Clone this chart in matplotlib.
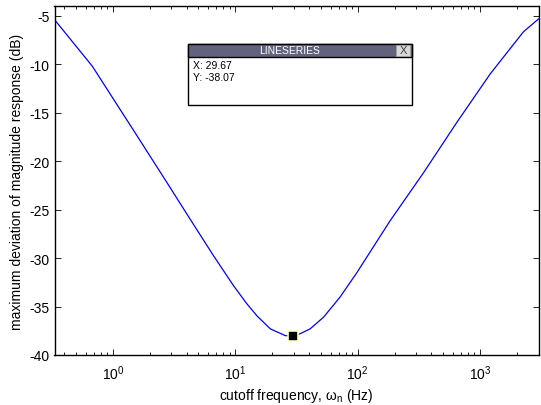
import matplotlib.pyplot as plt
from matplotlib.patches import Rectangle
from matplotlib.ticker import LogLocator, NullFormatter

plt.rcParams['font.family'] = ['Liberation Sans', 'DejaVu Sans']
plt.rcParams['mathtext.fontset'] = 'custom'
plt.rcParams['mathtext.rm'] = 'Liberation Sans'
plt.rcParams['mathtext.it'] = 'Liberation Sans:italic'
plt.rcParams['axes.unicode_minus'] = False

# cutoff frequency (Hz) vs. maximum deviation of magnitude response (dB)
freq = [0.333, 0.678, 1.01, 1.47, 2.76, 4.28, 6.64, 9.67, 12.4, 15.0, 19.3, 25.6,
        29.67, 33.9, 40.9, 52.6, 72.0, 98.5, 184, 345, 646, 1210, 2264, 3000]
max_dev = [-5.4, -10.2, -13.6, -16.8, -22.2, -26.0, -29.76, -32.85, -34.7, -35.95, -37.3, -38.0,
           -38.07, -37.8, -37.3, -36.1, -34.0, -31.5, -26.15, -21.2, -16.0, -11.0, -6.65, -5.34]

# data tip on the minimum
tip_x = 29.67
tip_y = -38.07

y_ticks = [-40, -35, -30, -25, -20, -15, -10, -5]

fig = plt.figure(figsize=(5.41, 4.06), dpi=100)
ax = fig.add_axes([54.5 / 541, 50 / 406, 484 / 541, 349 / 406])

ax.semilogx(freq, max_dev, color='#0000ff', linewidth=0.9)
ax.plot([tip_x], [tip_y], marker='s', markersize=7, color='black',
        markeredgecolor='#ffffc0', markeredgewidth=1.2, linestyle='none')

ax.set_xlim(1 / 3, 3000)
ax.set_ylim(-40, -4)
ax.set_yticks(y_ticks)
ax.xaxis.set_major_locator(LogLocator(base=10))
ax.xaxis.set_minor_locator(LogLocator(base=10, subs=range(2, 10)))
ax.xaxis.set_minor_formatter(NullFormatter())

ax.tick_params(which='both', direction='in', top=True, right=True, labelsize=10, width=0.6)
ax.tick_params(which='major', length=4)
ax.tick_params(axis='x', which='major', pad=6)
ax.tick_params(which='minor', length=2.5)
for s in ax.spines.values():
    s.set_linewidth(1.0)

ax.set_xlabel('cutoff frequency, $\\mathregular{\\omega_n}$ (Hz)', fontsize=10, labelpad=3)
ax.set_ylabel('maximum deviation of magnitude response (dB)', fontsize=10, labelpad=4)

# datatip box in figure pixels
W, H = 541.0, 406.0
left, right, top, head, bottom = 188, 412, 45, 58, 106
fig.patches.append(Rectangle((left / W, 1 - bottom / H), (right - left) / W, (bottom - top) / H,
                             transform=fig.transFigure, facecolor='white', edgecolor='black',
                             linewidth=1.0, zorder=5))
fig.patches.append(Rectangle((left / W, 1 - head / H), (right - left) / W, (head - top) / H,
                             transform=fig.transFigure, facecolor='#62627e', edgecolor='black',
                             linewidth=1.0, zorder=6))
fig.patches.append(Rectangle((396 / W, 1 - 57 / H), 14 / W, 11 / H,
                             transform=fig.transFigure, facecolor='#d8d8d8', edgecolor='#a0a0a0',
                             linewidth=0.6, zorder=7))
fig.text((left + 392) / 2 / W, 1 - 51.5 / H, 'LINESERIES', color='white', fontsize=7.5,
         ha='center', va='center', zorder=8)
fig.text(403 / W, 1 - 51.5 / H, 'X', color='#404040', fontsize=8, ha='center', va='center', zorder=8)
fig.text(193 / W, 1 - 66 / H, 'X: %.2f' % tip_x, fontsize=7.5, ha='left', va='center', zorder=8)
fig.text(193 / W, 1 - 78 / H, 'Y: %.2f' % tip_y, fontsize=7.5, ha='left', va='center', zorder=8)

fig.savefig('out.png', dpi=100)
